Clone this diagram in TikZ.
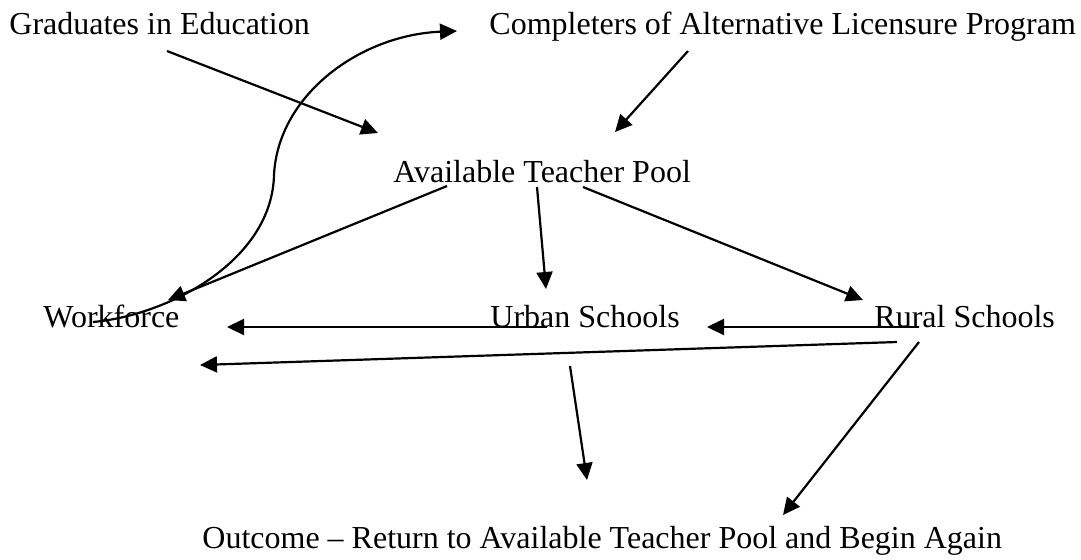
\documentclass[tikz,border=0pt]{standalone}
\usepackage{fontspec}
\setmainfont{Liberation Serif}
\usepackage{tikz}
\usetikzlibrary{arrows.meta,calc}

\tikzset{
    lbl/.style={inner sep=0pt, anchor=base west, font=\fontsize{16}{19}\selectfont},
    flow/.style={line width=1.1pt, -{Triangle[length=8.5pt,width=8pt]}}
}

\begin{document}
\begin{tikzpicture}[x=0.5pt, y=-0.5pt]

\useasboundingbox (0,0) rectangle (1081,559);

\node[lbl] (grad) at (9,34) {Graduates in Education};
\node[lbl] (compl) at (489,34) {Completers of Alternative Licensure Program};
\node[lbl] (pool) at (393,182) {Available Teacher Pool};

    % -------

\node[lbl] (work) at (43,327) {Workforce};
\node[lbl] (urban) at (490,327) {Urban Schools};
\node[lbl] (rural) at (874,327) {Rural Schools};
\node[lbl] (outcome) at (202,548) {Outcome -- Return to Available Teacher Pool and Begin Again};

    % -------

\draw[flow] ($(grad.base west)+(158,17)$) -- ($(pool.base west)+(-15,-49)$);
\draw[flow] ($(compl.base west)+(199,17)$) -- ($(pool.base west)+(222,-50)$);
\draw[flow] ($(pool.base west)+(54,4)$) -- ($(work.base west)+(125,-27)$);
\draw[flow] ($(pool.base west)+(144,5)$) -- ($(urban.base west)+(56,-38)$);
\draw[flow] ($(pool.base west)+(190,5)$) -- ($(rural.base west)+(-11,-27)$);
\draw[flow] ($(urban.base west)+(57,0)$) -- ($(work.base west)+(184,0)$);
\draw[flow] ($(rural.base west)+(45,0)$) -- ($(urban.base west)+(217,0)$);
\draw[flow] ($(rural.base west)+(23,15)$) -- ($(work.base west)+(157,38)$);
\draw[flow] ($(urban.base west)+(80,39)$) -- ($(outcome.base west)+(385,-68)$);
\draw[flow] ($(rural.base west)+(45,15)$) -- ($(outcome.base west)+(581,-33)$);

% back to the start
\draw[flow] ($(work.base west)+(50,-5)$) .. controls (170,315) and (272,260) .. (274,175)
    .. controls (278,95) and (360,35) .. ($(compl.base west)+(-32,-3)$);

\end{tikzpicture}
\end{document}
